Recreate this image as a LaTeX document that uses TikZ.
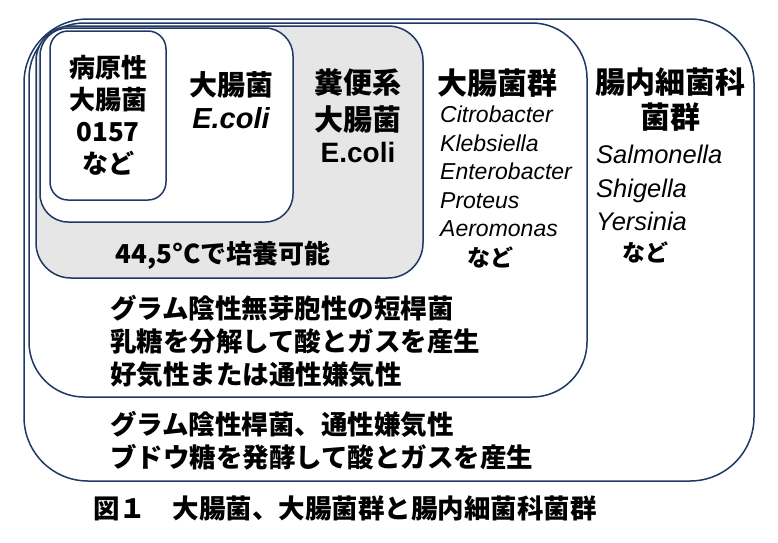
\documentclass[tikz,border=0pt]{standalone}
\usepackage{fontspec}
\setmainfont{Noto Sans CJK JP}
\newfontfamily\lat{Liberation Sans}
\usetikzlibrary{positioning}
\definecolor{navy}{HTML}{1F3864}
\definecolor{fecal}{HTML}{E7E6E6}

\begin{document}
\begin{tikzpicture}
[
x=1pt, y=-1pt,
box-a/.style={draw=navy, line width=1.5pt, fill=white},
box-b/.style={draw=navy, line width=1.5pt, fill=fecal},
text-a/.style={black, inner sep=0pt, align=center, font=\bfseries\fontsize{26}{32}\selectfont},
head-a/.style={black, inner sep=0pt, align=center, font=\bfseries\fontsize{30}{35}\selectfont},
latin-a/.style={black, inner sep=0pt, align=left, font=\lat\itshape\fontsize{23}{28.5}\selectfont},
latin-b/.style={black, inner sep=0pt, font=\lat\bfseries\fontsize{28}{34}\selectfont},
nado-a/.style={black, inner sep=0pt, font=\bfseries\fontsize{23}{28}\selectfont},
]
\useasboundingbox (0,0) rectangle (778,542);
% nested groups
\draw [box-a, rounded corners=64pt] (24,19)  rectangle (754,481);
\draw [box-a, rounded corners=55pt] (29,23)  rectangle (587,397);
\draw [box-b, rounded corners=35pt] (36,26)  rectangle (423,278);
\draw [box-a, rounded corners=28pt] (40,28)  rectangle (293,222);
\draw [box-a, rounded corners=18pt] (50,31)  rectangle (166,200);
% labels
\node (hp) [text-a] at (108,115) {病原性\\大腸菌\\0157\\など};
\node (he) [head-a, font=\bfseries\fontsize{28}{34}\selectfont] at (231,85) {大腸菌};
\node (le) [latin-b, below = 9pt of he, font=\lat\bfseries\itshape\fontsize{29}{34}\selectfont] {E.coli};
\node (hf) [head-a, font=\bfseries\fontsize{29}{37}\selectfont] at (358,101) {糞便系\\大腸菌};
\node (lf) [latin-b, below = 8pt of hf] {E.coli};
\node (tf) [text-a] at (223,255) {44,5°Cで培養可能};
\node (hc) [head-a] at (497,83) {大腸菌群};
\node (lc) [latin-a, anchor=north west] at (440,106) {Citrobacter\\Klebsiella\\Enterobacter\\Proteus\\Aeromonas};
\node (nc) [nado-a] at (490,257) {など};
\node (hi) [head-a] at (670,100) {腸内細菌科\\菌群};
\node (li) [latin-a, anchor=north west, font=\lat\itshape\fontsize{25.5}{33.5}\selectfont] at (596,145) {Salmonella\\Shigella\\Yersinia};
\node (ni) [nado-a] at (645,252) {など};
\node (tc) [text-a, align=left, anchor=west, font=\bfseries\fontsize{26.5}{33}\selectfont] at (110,341) {グラム陰性無芽胞性の短桿菌\\乳糖を分解して酸とガスを産生\\好気性または通性嫌気性};
\node (ti) [text-a, align=left, anchor=west, font=\bfseries\fontsize{26.5}{33}\selectfont] at (110,441) {グラム陰性桿菌、通性嫌気性\\ブドウ糖を発酵して酸とガスを産生};
\node (cap) [text-a, anchor=west, font=\bfseries\fontsize{26.5}{32}\selectfont] at (93,508) {図１　大腸菌、大腸菌群と腸内細菌科菌群};
\end{tikzpicture}
\end{document}
